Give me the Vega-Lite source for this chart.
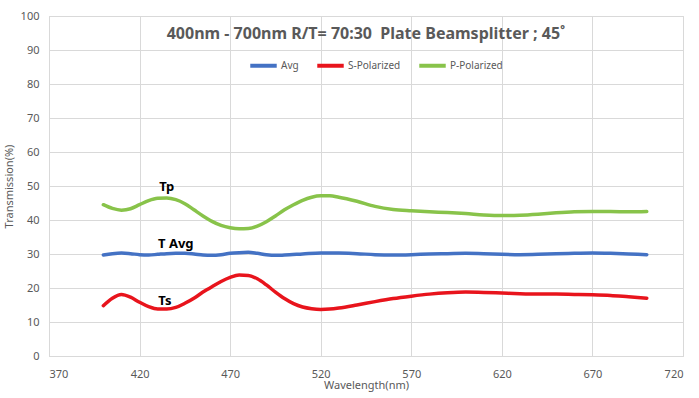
{
  "$schema": "https://vega.github.io/schema/vega-lite/v6.json",
  "width": 634,
  "height": 340,
  "autosize": {"type": "none"},
  "padding": {"left": 49, "top": 16, "right": 16, "bottom": 42},
  "background": "white",
  "config": {
    "view": {"stroke": "#d9d9d9", "strokeWidth": 1},
    "font": "Noto Sans"
  },
  "title": {
    "text": "400nm - 700nm R/T= 70:30\u00a0 Plate Beamsplitter ; 45˚",
    "font": "Noto Sans",
    "fontSize": 16,
    "fontWeight": "bold",
    "color": "#595959",
    "anchor": "middle",
    "frame": "group",
    "orient": "top",
    "baseline": "bottom",
    "offset": -48
  },
  "datasets": {
    "curves": [
      {"wl": 400, "series": "P-Polarized", "t": 44.5}, {"wl": 405, "series": "P-Polarized", "t": 43.4}, {"wl": 410, "series": "P-Polarized", "t": 42.9}, {"wl": 415, "series": "P-Polarized", "t": 43.3}, {"wl": 420, "series": "P-Polarized", "t": 44.5}, {"wl": 425, "series": "P-Polarized", "t": 45.7}, {"wl": 430, "series": "P-Polarized", "t": 46.4}, {"wl": 435, "series": "P-Polarized", "t": 46.5}, {"wl": 440, "series": "P-Polarized", "t": 46.0}, {"wl": 445, "series": "P-Polarized", "t": 44.8}, {"wl": 450, "series": "P-Polarized", "t": 43.0}, {"wl": 455, "series": "P-Polarized", "t": 41.2}, {"wl": 460, "series": "P-Polarized", "t": 39.6}, {"wl": 465, "series": "P-Polarized", "t": 38.4}, {"wl": 470, "series": "P-Polarized", "t": 37.7}, {"wl": 475, "series": "P-Polarized", "t": 37.4}, {"wl": 480, "series": "P-Polarized", "t": 37.5}, {"wl": 485, "series": "P-Polarized", "t": 38.2}, {"wl": 490, "series": "P-Polarized", "t": 39.5}, {"wl": 495, "series": "P-Polarized", "t": 41.2}, {"wl": 500, "series": "P-Polarized", "t": 43.0}, {"wl": 505, "series": "P-Polarized", "t": 44.5}, {"wl": 510, "series": "P-Polarized", "t": 45.8}, {"wl": 515, "series": "P-Polarized", "t": 46.7}, {"wl": 520, "series": "P-Polarized", "t": 47.1}, {"wl": 525, "series": "P-Polarized", "t": 47.1}, {"wl": 530, "series": "P-Polarized", "t": 46.7}, {"wl": 540, "series": "P-Polarized", "t": 45.5}, {"wl": 550, "series": "P-Polarized", "t": 44.0}, {"wl": 560, "series": "P-Polarized", "t": 43.1}, {"wl": 570, "series": "P-Polarized", "t": 42.7}, {"wl": 580, "series": "P-Polarized", "t": 42.4}, {"wl": 590, "series": "P-Polarized", "t": 42.2}, {"wl": 600, "series": "P-Polarized", "t": 41.9}, {"wl": 610, "series": "P-Polarized", "t": 41.5}, {"wl": 620, "series": "P-Polarized", "t": 41.3}, {"wl": 630, "series": "P-Polarized", "t": 41.4}, {"wl": 640, "series": "P-Polarized", "t": 41.7}, {"wl": 650, "series": "P-Polarized", "t": 42.1}, {"wl": 660, "series": "P-Polarized", "t": 42.4}, {"wl": 670, "series": "P-Polarized", "t": 42.5}, {"wl": 680, "series": "P-Polarized", "t": 42.5}, {"wl": 690, "series": "P-Polarized", "t": 42.4}, {"wl": 700, "series": "P-Polarized", "t": 42.5},
      {"wl": 400, "series": "S-Polarized", "t": 14.8}, {"wl": 405, "series": "S-Polarized", "t": 17.0}, {"wl": 410, "series": "S-Polarized", "t": 18.1}, {"wl": 415, "series": "S-Polarized", "t": 17.3}, {"wl": 420, "series": "S-Polarized", "t": 15.8}, {"wl": 425, "series": "S-Polarized", "t": 14.5}, {"wl": 430, "series": "S-Polarized", "t": 13.8}, {"wl": 435, "series": "S-Polarized", "t": 13.8}, {"wl": 440, "series": "S-Polarized", "t": 14.3}, {"wl": 445, "series": "S-Polarized", "t": 15.5}, {"wl": 450, "series": "S-Polarized", "t": 17.0}, {"wl": 455, "series": "S-Polarized", "t": 18.8}, {"wl": 460, "series": "S-Polarized", "t": 20.4}, {"wl": 465, "series": "S-Polarized", "t": 21.9}, {"wl": 470, "series": "S-Polarized", "t": 23.1}, {"wl": 475, "series": "S-Polarized", "t": 23.8}, {"wl": 480, "series": "S-Polarized", "t": 23.7}, {"wl": 485, "series": "S-Polarized", "t": 22.7}, {"wl": 490, "series": "S-Polarized", "t": 20.9}, {"wl": 495, "series": "S-Polarized", "t": 18.8}, {"wl": 500, "series": "S-Polarized", "t": 16.9}, {"wl": 505, "series": "S-Polarized", "t": 15.4}, {"wl": 510, "series": "S-Polarized", "t": 14.4}, {"wl": 515, "series": "S-Polarized", "t": 13.9}, {"wl": 520, "series": "S-Polarized", "t": 13.7}, {"wl": 525, "series": "S-Polarized", "t": 13.8}, {"wl": 530, "series": "S-Polarized", "t": 14.1}, {"wl": 540, "series": "S-Polarized", "t": 15.0}, {"wl": 550, "series": "S-Polarized", "t": 16.0}, {"wl": 560, "series": "S-Polarized", "t": 16.9}, {"wl": 570, "series": "S-Polarized", "t": 17.6}, {"wl": 580, "series": "S-Polarized", "t": 18.2}, {"wl": 590, "series": "S-Polarized", "t": 18.6}, {"wl": 600, "series": "S-Polarized", "t": 18.8}, {"wl": 610, "series": "S-Polarized", "t": 18.7}, {"wl": 620, "series": "S-Polarized", "t": 18.5}, {"wl": 630, "series": "S-Polarized", "t": 18.3}, {"wl": 640, "series": "S-Polarized", "t": 18.2}, {"wl": 650, "series": "S-Polarized", "t": 18.2}, {"wl": 660, "series": "S-Polarized", "t": 18.1}, {"wl": 670, "series": "S-Polarized", "t": 18.0}, {"wl": 680, "series": "S-Polarized", "t": 17.8}, {"wl": 690, "series": "S-Polarized", "t": 17.4}, {"wl": 700, "series": "S-Polarized", "t": 17.0},
      {"wl": 400, "series": "Avg", "t": 29.7}, {"wl": 405, "series": "Avg", "t": 30.1}, {"wl": 410, "series": "Avg", "t": 30.3}, {"wl": 415, "series": "Avg", "t": 30.1}, {"wl": 420, "series": "Avg", "t": 29.8}, {"wl": 425, "series": "Avg", "t": 29.7}, {"wl": 430, "series": "Avg", "t": 29.9}, {"wl": 435, "series": "Avg", "t": 30.1}, {"wl": 440, "series": "Avg", "t": 30.2}, {"wl": 445, "series": "Avg", "t": 30.2}, {"wl": 450, "series": "Avg", "t": 30.0}, {"wl": 455, "series": "Avg", "t": 29.7}, {"wl": 460, "series": "Avg", "t": 29.6}, {"wl": 465, "series": "Avg", "t": 29.8}, {"wl": 470, "series": "Avg", "t": 30.2}, {"wl": 475, "series": "Avg", "t": 30.4}, {"wl": 480, "series": "Avg", "t": 30.5}, {"wl": 485, "series": "Avg", "t": 30.2}, {"wl": 490, "series": "Avg", "t": 29.8}, {"wl": 495, "series": "Avg", "t": 29.6}, {"wl": 500, "series": "Avg", "t": 29.7}, {"wl": 510, "series": "Avg", "t": 30.0}, {"wl": 520, "series": "Avg", "t": 30.3}, {"wl": 530, "series": "Avg", "t": 30.3}, {"wl": 540, "series": "Avg", "t": 30.1}, {"wl": 550, "series": "Avg", "t": 29.8}, {"wl": 560, "series": "Avg", "t": 29.7}, {"wl": 570, "series": "Avg", "t": 29.8}, {"wl": 580, "series": "Avg", "t": 30.0}, {"wl": 590, "series": "Avg", "t": 30.1}, {"wl": 600, "series": "Avg", "t": 30.2}, {"wl": 610, "series": "Avg", "t": 30.1}, {"wl": 620, "series": "Avg", "t": 29.9}, {"wl": 630, "series": "Avg", "t": 29.8}, {"wl": 640, "series": "Avg", "t": 29.9}, {"wl": 650, "series": "Avg", "t": 30.1}, {"wl": 660, "series": "Avg", "t": 30.2}, {"wl": 670, "series": "Avg", "t": 30.3}, {"wl": 680, "series": "Avg", "t": 30.2}, {"wl": 690, "series": "Avg", "t": 30.0}, {"wl": 700, "series": "Avg", "t": 29.8}
    ],
    "labels": [
      {"wl": 435, "t": 49.6, "label": "Tp"},
      {"wl": 440, "t": 33.0, "label": "T Avg"},
      {"wl": 434, "t": 16.2, "label": "Ts"}
    ]
  },
  "encoding": {
    "x": {
      "field": "wl", "type": "quantitative",
      "scale": {"domain": [370, 720], "nice": false, "zero": false},
      "axis": {
        "title": "Wavelength(nm)",
        "values": [370, 420, 470, 520, 570, 620, 670, 720],
        "grid": true, "gridColor": "#d9d9d9",
        "ticks": false, "domainColor": "#d9d9d9",
        "labelColor": "#595959", "labelFontSize": 11, "labelPadding": 12, "labelFont": "Noto Sans",
        "titleColor": "#595959", "titleFontSize": 11, "titleFontWeight": "normal", "titlePadding": 0, "titleFont": "Noto Sans"
      }
    },
    "y": {
      "field": "t", "type": "quantitative",
      "scale": {"domain": [0, 100], "nice": false},
      "axis": {
        "title": "Transmission(%)",
        "values": [0, 10, 20, 30, 40, 50, 60, 70, 80, 90, 100],
        "labelOverlap": false,
        "grid": true, "gridColor": "#d9d9d9",
        "ticks": false, "domainColor": "#d9d9d9",
        "labelColor": "#595959", "labelFontSize": 11, "labelPadding": 10, "labelFont": "Noto Sans",
        "titleColor": "#595959", "titleFontSize": 11, "titleFontWeight": "normal", "titlePadding": 6, "titleFont": "Noto Sans"
      }
    }
  },
  "layer": [
    {
      "data": {"name": "curves"},
      "mark": {"type": "line", "interpolate": "monotone", "strokeWidth": 3.5, "strokeCap": "round"},
      "encoding": {
        "color": {
          "field": "series", "type": "nominal",
          "scale": {"domain": ["Avg", "S-Polarized", "P-Polarized"], "range": ["#4472C4", "#E8141C", "#88C34A"]},
          "legend": {
            "title": null,
            "orient": "none",
            "direction": "horizontal",
            "legendX": 199,
            "legendY": 34,
            "symbolType": "stroke",
            "symbolSize": 700,
            "symbolStrokeWidth": 4,
            "labelColor": "#595959",
            "labelFontSize": 10,
            "labelFont": "Noto Sans",
            "labelOffset": 2,
            "columnPadding": 10
          }
        }
      }
    },
    {
      "data": {"name": "labels"},
      "mark": {"type": "text", "fontWeight": "bold", "fontSize": 13, "color": "black", "font": "Noto Sans"},
      "encoding": {
        "text": {"field": "label"}
      }
    }
  ]
}
